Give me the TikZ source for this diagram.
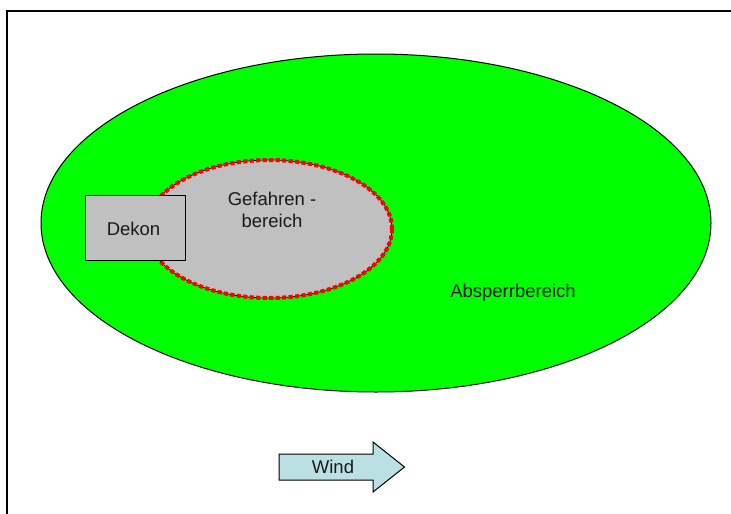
\documentclass[tikz,border=0pt]{standalone}
\usepackage{fontspec}
\setmainfont{Liberation Sans}
\usetikzlibrary{shapes.geometric,shapes.arrows}
\definecolor{zonegreen}{RGB}{0,255,0}
\definecolor{zonegray}{RGB}{192,192,192}
\definecolor{windblue}{RGB}{187,224,227}
\definecolor{dotred}{RGB}{255,0,0}
\tikzset{
  x=1pt,y=-1pt,
  lab/.style={font=\fontsize{18.5}{22}\selectfont,text=black!90,inner sep=0pt,align=center},
  zone/.style={ellipse,draw=black,line width=1pt,inner sep=0pt,minimum width=0pt},
  framel/.style={draw=black,line width=2pt},
  reddots/.style={draw=dotred,line width=4pt,dash pattern=on 4.2pt off 2.3pt},
}
\begin{document}
\begin{tikzpicture}
\useasboundingbox (0,0) rectangle (731,514);
\fill[white] (0,0) rectangle (731,514);
\draw[framel] (7,514) -- (7,11) -- (731,11);
\node[zone,fill=zonegreen,minimum width=670pt,minimum height=338pt] (sperr) at (376,223) {};
\node[zone,fill=zonegray,line width=0.7pt,minimum width=246pt,minimum height=138pt] (gefahr) at (269,229) {};
\draw[reddots] (269,229) ellipse [x radius=123pt,y radius=69pt];
\node[draw=black,fill=zonegray,line width=1pt,minimum width=100pt,minimum height=65.5pt,inner sep=0pt] (dekon) at (135.5,228.2) {};
\node[lab] (dekontxt) at (133.5,229) {Dekon};
\node[lab] (gefahrtxt) at (272,210) {Gefahren -\\[-0.5pt]bereich};
\node[lab] (sperrtxt) at (513,293) {Absperrbereich};
\draw[fill=windblue,line width=1pt,line join=miter] (279,454) -- (373,454) -- (373,442) -- (404.5,467) -- (373,492) -- (373,480) -- (279,480) -- cycle;
\node[lab] (windtxt) at (333,467) {Wind};
\end{tikzpicture}
\end{document}
